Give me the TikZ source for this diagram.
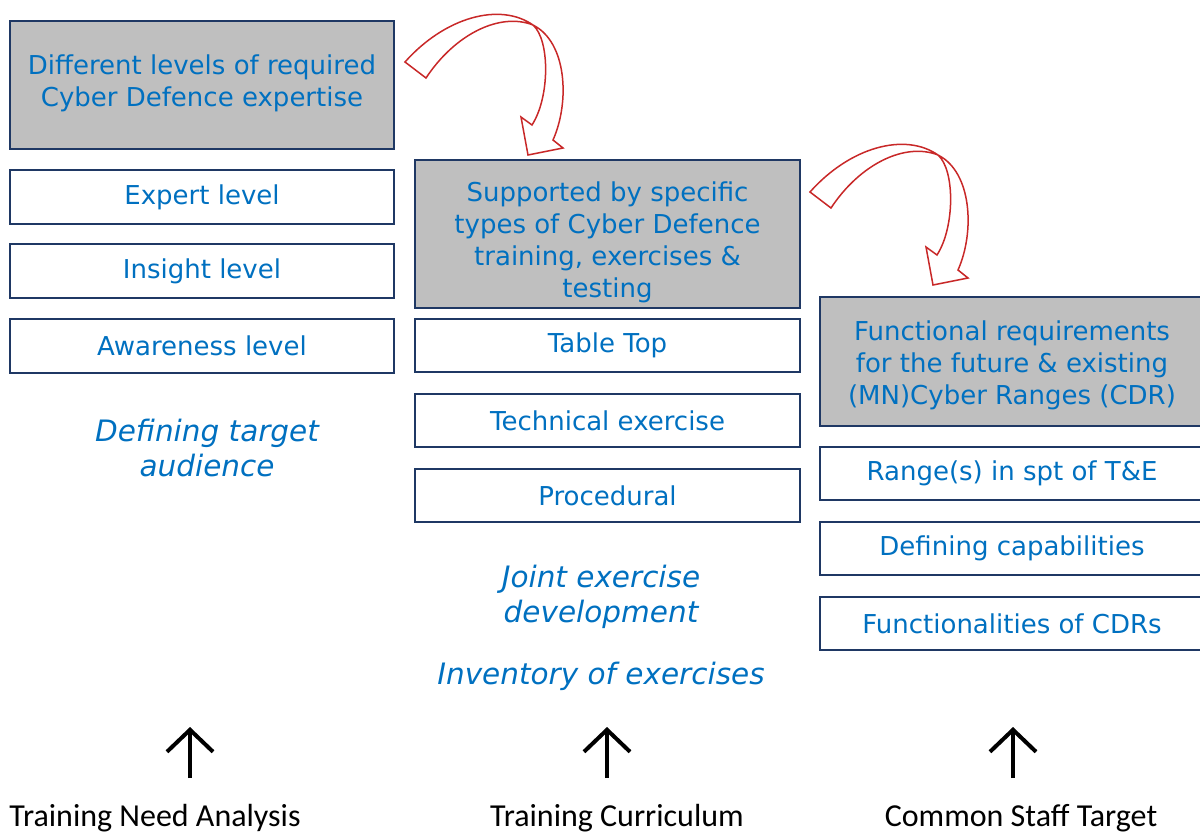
\documentclass[tikz,border=0pt]{standalone}
\usepackage{fontspec}
\setmainfont{DejaVu Sans}
\newfontfamily\calibri{Carlito}
\usetikzlibrary{arrows.meta,positioning}
\definecolor{navy}{HTML}{1F3864}
\definecolor{boxgrey}{HTML}{BFBFBF}
\definecolor{txtblue}{HTML}{0070C0}
\definecolor{arrowred}{HTML}{C82828}

\begin{document}
\begin{tikzpicture}[x=1pt, y=-1pt, node distance=21pt,
  every node/.style={inner sep=0pt}]

  % ===== Styles =====
  \tikzset{
    box/.style={draw=navy, line width=1.5pt, outer sep=0pt, minimum width=384pt, minimum height=53pt,
      align=center, text=txtblue, font=\fontsize{26}{32}\selectfont},
    headbox/.style={box, fill=boxgrey},
    headtext/.style={align=center, text=txtblue, font=\fontsize{26}{32}\selectfont},
    note/.style={text=txtblue, align=center, font=\fontsize{29.5}{35}\selectfont\itshape},
    base/.style={font=\calibri\fontsize{32}{36}\selectfont, anchor=base},
    uparrow/.style={-{Straight Barb[length=22pt,width=46pt]}, line width=4pt},
    bendarrow/.pic={
      \draw[arrowred, line width=1.5pt]
        (0,0) .. controls (40,-45) and (95,-60) .. (128,-37)
        .. controls (145,-22) and (145,35) .. (127,63)
        -- (116,55) -- (123,93) -- (158,86) -- (148,78)
        .. controls (165,40) and (162,-20) .. (128,-37)
        .. controls (95,-50) and (50,-28) .. (21,16) -- cycle;
    }
  }

  \clip (0,0) rectangle (1200,836);

  % ===== Column 1: target audience =====
  \node[headbox, anchor=north west, minimum height=128pt] (levels) at (10,21) {};
  \node[headtext] at ([yshift=2pt]levels.center) {Different levels of required\\Cyber Defence expertise};
  \node[box, minimum height=54pt, below=21pt of levels] (expert) {Expert level};
  \node[box, minimum height=54pt, below=20pt of expert] (insight) {Insight level};
  \node[box, minimum height=54pt, below=21pt of insight] (aware) {Awareness level};
  \node[note] (audience) at (207,448) {Defining target\\audience};

  % ===== Column 2: training & exercises =====
  \node[headbox, anchor=north west, minimum width=385pt, minimum height=148pt] (support) at (415,160) {};
  \node[headtext] at ([yshift=-8pt]support.center)
    {Supported by specific\\types of Cyber Defence\\training, exercises \&\\testing};
  \node[box, minimum width=385pt, below=11pt of support] (tabletop) {Table Top};
  \node[box, minimum width=385pt, below=22pt of tabletop] (technical) {Technical exercise};
  \node[box, minimum width=385pt, below=22pt of technical] (procedural) {Procedural};
  \node[note] (joint) at (601,597) {Joint exercise\\development};
  \node[note] (inventory) at (601,676) {Inventory of exercises};

  % ===== Column 3: cyber ranges (runs off the right edge) =====
  \node[headbox, anchor=north west, minimum height=129pt] (ranges) at (820,297) {};
  \node[headtext] at ([yshift=-4pt]ranges.center)
    {Functional requirements\\for the future \& existing\\(MN)Cyber Ranges (CDR)};
  \node[box, below=21pt of ranges] (spt) {Range(s) in spt of T\&E};
  \node[box, below=22pt of spt] (capab) {Defining capabilities};
  \node[box, below=22pt of capab] (funcs) {Functionalities of CDRs};

  % ===== Bent arrows between columns =====
  \pic at (405,62) {bendarrow};
  \pic at (810,192) {bendarrow};

  % ===== Bottom labels and up arrows =====
  \node[base] (tna) at (155,826) {Training Need Analysis};
  \node[base] (curr) at (617,826) {Training Curriculum};
  \node[base] (cst) at (1021,826) {Common Staff Target};

  \coordinate (s1) at (190,778);  \coordinate (e1) at (190,727);
  \coordinate (s2) at (607,778);  \coordinate (e2) at (607,727);
  \coordinate (s3) at (1013,778); \coordinate (e3) at (1013,727);
  \foreach \i in {1,2,3}
    \draw[uparrow] (s\i) -- (e\i);

\end{tikzpicture}
\end{document}
